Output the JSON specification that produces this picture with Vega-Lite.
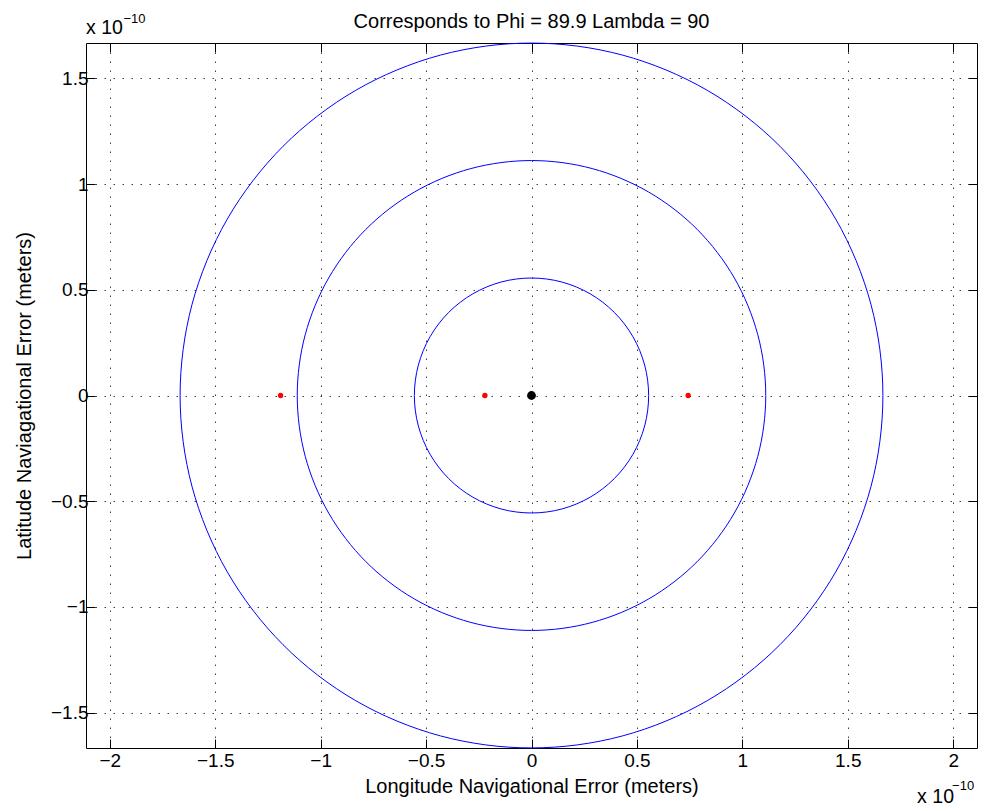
{
  "$schema": "https://vega.github.io/schema/vega-lite/v6.json",
  "width": 891,
  "height": 705,
  "autosize": {"type": "none"},
  "padding": {"left": 86, "top": 43, "right": 9, "bottom": 63},
  "background": "white",
  "title": {"text": "Corresponds to Phi = 89.9 Lambda = 90", "fontSize": 20, "fontWeight": "normal", "font": "Liberation Sans", "color": "black", "offset": -35, "baseline": "alphabetic", "anchor": "middle", "frame": "group"},
  "config": {
    "font": "Liberation Sans",
    "view": {"stroke": "black", "strokeWidth": 1},
    "axis": {
      "domain": false,
      "tickColor": "black",
      "tickSize": -9,
      "tickWidth": 1,
      "labelFont": "Liberation Sans",
      "labelFontSize": 19,
      "labelColor": "black",
      "titleFont": "Liberation Sans",
      "titleFontSize": 20,
      "titleFontWeight": "normal",
      "titleColor": "black",
      "gridColor": "black",
      "gridOpacity": 0.75,
      "gridDash": [1.5, 7.5],
      "gridWidth": 1
    }
  },
  "datasets": {
    "circles": [
      {"c": 1, "i": 0, "x": 0.5556, "y": 0},
      {"c": 1, "i": 1, "x": 0.5367, "y": 0.1438},
      {"c": 1, "i": 2, "x": 0.4812, "y": 0.2778},
      {"c": 1, "i": 3, "x": 0.3929, "y": 0.3929},
      {"c": 1, "i": 4, "x": 0.2778, "y": 0.4812},
      {"c": 1, "i": 5, "x": 0.1438, "y": 0.5367},
      {"c": 1, "i": 6, "x": 0, "y": 0.5556},
      {"c": 1, "i": 7, "x": -0.1438, "y": 0.5367},
      {"c": 1, "i": 8, "x": -0.2778, "y": 0.4812},
      {"c": 1, "i": 9, "x": -0.3929, "y": 0.3929},
      {"c": 1, "i": 10, "x": -0.4812, "y": 0.2778},
      {"c": 1, "i": 11, "x": -0.5367, "y": 0.1438},
      {"c": 1, "i": 12, "x": -0.5556, "y": 0},
      {"c": 1, "i": 13, "x": -0.5367, "y": -0.1438},
      {"c": 1, "i": 14, "x": -0.4812, "y": -0.2778},
      {"c": 1, "i": 15, "x": -0.3929, "y": -0.3929},
      {"c": 1, "i": 16, "x": -0.2778, "y": -0.4812},
      {"c": 1, "i": 17, "x": -0.1438, "y": -0.5367},
      {"c": 1, "i": 18, "x": 0, "y": -0.5556},
      {"c": 1, "i": 19, "x": 0.1438, "y": -0.5367},
      {"c": 1, "i": 20, "x": 0.2778, "y": -0.4812},
      {"c": 1, "i": 21, "x": 0.3929, "y": -0.3929},
      {"c": 1, "i": 22, "x": 0.4812, "y": -0.2778},
      {"c": 1, "i": 23, "x": 0.5367, "y": -0.1438},
      {"c": 2, "i": 0, "x": 1.1111, "y": 0},
      {"c": 2, "i": 1, "x": 1.0732, "y": 0.2876},
      {"c": 2, "i": 2, "x": 0.9622, "y": 0.5556},
      {"c": 2, "i": 3, "x": 0.7857, "y": 0.7857},
      {"c": 2, "i": 4, "x": 0.5556, "y": 0.9622},
      {"c": 2, "i": 5, "x": 0.2876, "y": 1.0732},
      {"c": 2, "i": 6, "x": 0, "y": 1.1111},
      {"c": 2, "i": 7, "x": -0.2876, "y": 1.0732},
      {"c": 2, "i": 8, "x": -0.5556, "y": 0.9622},
      {"c": 2, "i": 9, "x": -0.7857, "y": 0.7857},
      {"c": 2, "i": 10, "x": -0.9622, "y": 0.5556},
      {"c": 2, "i": 11, "x": -1.0732, "y": 0.2876},
      {"c": 2, "i": 12, "x": -1.1111, "y": 0},
      {"c": 2, "i": 13, "x": -1.0732, "y": -0.2876},
      {"c": 2, "i": 14, "x": -0.9622, "y": -0.5556},
      {"c": 2, "i": 15, "x": -0.7857, "y": -0.7857},
      {"c": 2, "i": 16, "x": -0.5556, "y": -0.9622},
      {"c": 2, "i": 17, "x": -0.2876, "y": -1.0732},
      {"c": 2, "i": 18, "x": 0, "y": -1.1111},
      {"c": 2, "i": 19, "x": 0.2876, "y": -1.0732},
      {"c": 2, "i": 20, "x": 0.5556, "y": -0.9622},
      {"c": 2, "i": 21, "x": 0.7857, "y": -0.7857},
      {"c": 2, "i": 22, "x": 0.9622, "y": -0.5556},
      {"c": 2, "i": 23, "x": 1.0732, "y": -0.2876},
      {"c": 3, "i": 0, "x": 1.6667, "y": 0},
      {"c": 3, "i": 1, "x": 1.6099, "y": 0.4314},
      {"c": 3, "i": 2, "x": 1.4434, "y": 0.8334},
      {"c": 3, "i": 3, "x": 1.1785, "y": 1.1785},
      {"c": 3, "i": 4, "x": 0.8334, "y": 1.4434},
      {"c": 3, "i": 5, "x": 0.4314, "y": 1.6099},
      {"c": 3, "i": 6, "x": 0, "y": 1.6667},
      {"c": 3, "i": 7, "x": -0.4314, "y": 1.6099},
      {"c": 3, "i": 8, "x": -0.8334, "y": 1.4434},
      {"c": 3, "i": 9, "x": -1.1785, "y": 1.1785},
      {"c": 3, "i": 10, "x": -1.4434, "y": 0.8334},
      {"c": 3, "i": 11, "x": -1.6099, "y": 0.4314},
      {"c": 3, "i": 12, "x": -1.6667, "y": 0},
      {"c": 3, "i": 13, "x": -1.6099, "y": -0.4314},
      {"c": 3, "i": 14, "x": -1.4434, "y": -0.8334},
      {"c": 3, "i": 15, "x": -1.1785, "y": -1.1785},
      {"c": 3, "i": 16, "x": -0.8334, "y": -1.4434},
      {"c": 3, "i": 17, "x": -0.4314, "y": -1.6099},
      {"c": 3, "i": 18, "x": 0, "y": -1.6667},
      {"c": 3, "i": 19, "x": 0.4314, "y": -1.6099},
      {"c": 3, "i": 20, "x": 0.8334, "y": -1.4434},
      {"c": 3, "i": 21, "x": 1.1785, "y": -1.1785},
      {"c": 3, "i": 22, "x": 1.4434, "y": -0.8334},
      {"c": 3, "i": 23, "x": 1.6099, "y": -0.4314}
    ],
    "red": [
      {"x": -1.19, "y": 0},
      {"x": -0.221, "y": 0},
      {"x": 0.743, "y": 0}
    ],
    "center": [{"x": 0, "y": 0}],
    "expbase": [
      {"t": "x 10", "x": -2.113, "y": 1.711},
      {"t": "x 10", "x": 1.829, "y": -1.926}
    ],
    "exppow": [
      {"t": "−10", "x": -1.935, "y": 1.762},
      {"t": "−10", "x": 1.995, "y": -1.865}
    ]
  },
  "layer": [
    {
      "data": {"name": "circles"},
      "mark": {"type": "line", "interpolate": "cardinal-closed", "color": "#0000ff", "strokeWidth": 1},
      "encoding": {
        "x": {"field": "x", "type": "quantitative",
              "scale": {"domain": [-2.113, 2.113], "nice": false, "zero": false},
              "axis": {"values": [-2, -1.5, -1, -0.5, 0, 0.5, 1, 1.5, 2], "format": "~g", "grid": true, "title": "Longitude Navigational Error (meters)", "labelPadding": 12, "titlePadding": 6}},
        "y": {"field": "y", "type": "quantitative",
              "scale": {"domain": [-1.667, 1.667], "nice": false, "zero": false},
              "axis": {"values": [-1.5, -1, -0.5, 0, 0.5, 1, 1.5], "format": "~g", "grid": true, "title": "Latitude Naviagational Error (meters)", "labelPadding": 7, "titlePadding": 16}},
        "detail": {"field": "c", "type": "nominal"},
        "order": {"field": "i", "type": "quantitative"}
      }
    },
    {
      "data": {"name": "center"},
      "mark": {"type": "point", "filled": true, "opacity": 0},
      "encoding": {
        "x": {"field": "x", "type": "quantitative",
              "axis": {"orient": "top", "values": [-2, -1.5, -1, -0.5, 0, 0.5, 1, 1.5, 2], "labels": false, "title": null, "grid": false}},
        "y": {"field": "y", "type": "quantitative",
              "axis": {"orient": "right", "values": [-1.5, -1, -0.5, 0, 0.5, 1, 1.5], "labels": false, "title": null, "grid": false}}
      }
    },
    {
      "data": {"name": "red"},
      "mark": {"type": "point", "filled": true, "shape": "circle", "color": "#ff0000", "size": 28, "opacity": 1},
      "encoding": {
        "x": {"field": "x", "type": "quantitative", "axis": null},
        "y": {"field": "y", "type": "quantitative", "axis": null}
      }
    },
    {
      "data": {"name": "center"},
      "mark": {"type": "point", "filled": true, "shape": "circle", "color": "#000000", "size": 78, "opacity": 1},
      "encoding": {
        "x": {"field": "x", "type": "quantitative", "axis": null},
        "y": {"field": "y", "type": "quantitative", "axis": null}
      }
    },
    {
      "data": {"name": "expbase"},
      "mark": {"type": "text", "align": "left", "baseline": "alphabetic", "fontSize": 19.5, "font": "Liberation Sans", "color": "black"},
      "encoding": {
        "x": {"field": "x", "type": "quantitative", "axis": null},
        "y": {"field": "y", "type": "quantitative", "axis": null},
        "text": {"field": "t"}
      }
    },
    {
      "data": {"name": "exppow"},
      "mark": {"type": "text", "align": "left", "baseline": "alphabetic", "fontSize": 13, "font": "Liberation Sans", "color": "black"},
      "encoding": {
        "x": {"field": "x", "type": "quantitative", "axis": null},
        "y": {"field": "y", "type": "quantitative", "axis": null},
        "text": {"field": "t"}
      }
    }
  ],
  "resolve": {"axis": {"x": "independent", "y": "independent"}}
}
